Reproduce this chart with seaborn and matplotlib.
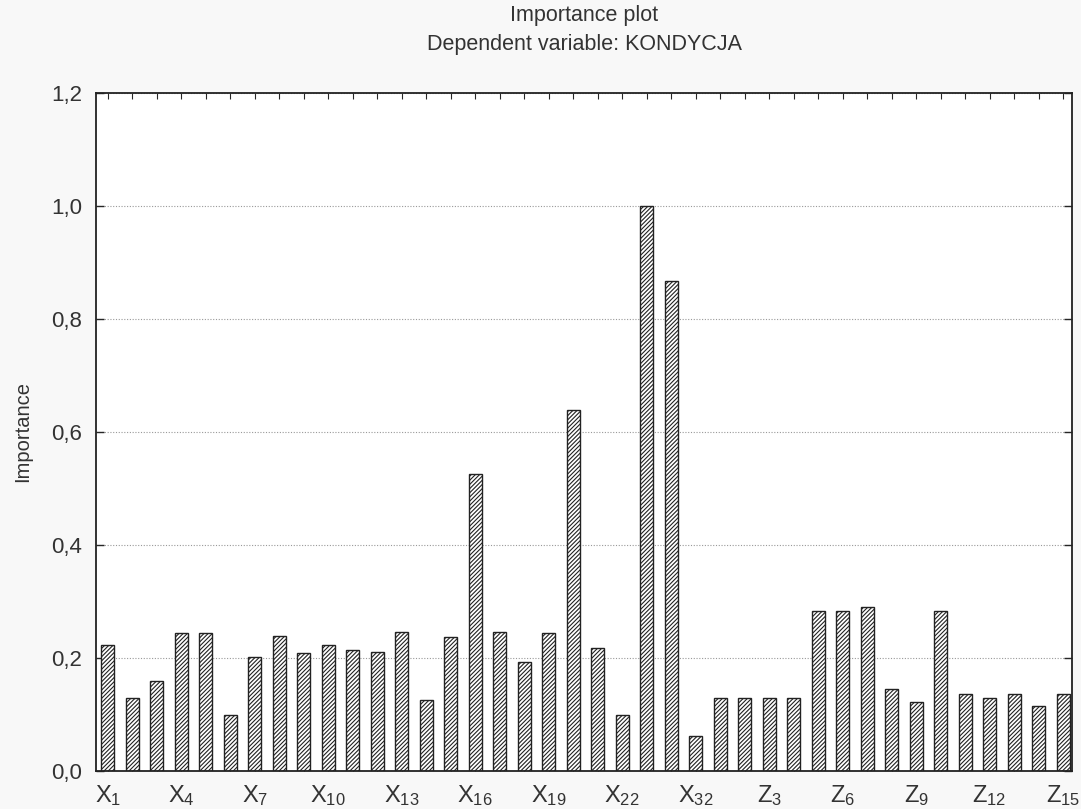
import matplotlib
matplotlib.use("Agg")
import matplotlib.pyplot as plt
import matplotlib.ticker as mticker
import pandas as pd
import seaborn as sns

# === data ===
variables = (["X%d" % i for i in range(1, 23)] + ["X30", "X31", "X32"]
             + ["Z%d" % i for i in range(1, 16)])
importance = [0.223, 0.128, 0.159, 0.244, 0.244, 0.098, 0.202, 0.238, 0.208, 0.223,
              0.213, 0.211, 0.246, 0.125, 0.236, 0.525, 0.246, 0.192, 0.244, 0.638,
              0.218, 0.098, 1.000, 0.867, 0.062, 0.128, 0.128, 0.128, 0.128, 0.282,
              0.282, 0.290, 0.144, 0.121, 0.282, 0.136, 0.128, 0.136, 0.114, 0.136]
y_ticks = [0.0, 0.2, 0.4, 0.6, 0.8, 1.0, 1.2]

df = pd.DataFrame({"Variable": variables, "Importance": importance})

# === style ===
sns.set_style("ticks")
plt.rcParams["font.family"] = ["Liberation Sans", "DejaVu Sans"]
plt.rcParams["mathtext.fontset"] = "custom"
plt.rcParams["mathtext.rm"] = "Liberation Sans"
plt.rcParams["mathtext.it"] = "Liberation Sans"
plt.rcParams["hatch.linewidth"] = 0.8
plt.rcParams["hatch.color"] = "#333333"

fig = plt.figure(figsize=(10.81, 8.09), dpi=100, facecolor="#f8f8f8")
ax = fig.add_axes([0.0888, 0.0474, 0.903, 0.8376])
ax.set_facecolor("white")

sns.barplot(data=df, x="Variable", y="Importance", order=variables,
            color="white", edgecolor="#222222", linewidth=1.0,
            hatch="////////", width=0.53, ax=ax)

# === axes ===
ax.set_xlim(-0.48, 39.37)
ax.set_ylim(0, 1.2)
ax.set_yticks(y_ticks)
ax.yaxis.set_major_formatter(mticker.FuncFormatter(lambda v, p: ("%.1f" % v).replace(".", ",")))
ax.yaxis.grid(True, linestyle=(0, (1, 1.5)), color="#999999", linewidth=0.8)
ax.set_axisbelow(True)

xt_labels = []
for i, name in enumerate(variables):
    if i % 3 == 0:
        xt_labels.append(r"$\mathrm{%s}_{%s}$" % (name[0], name[1:]))
    else:
        xt_labels.append("")
ax.set_xticks(range(len(variables)))
ax.set_xticklabels(xt_labels, fontsize=17, color="#333333")

ax.tick_params(axis="x", direction="in", length=4, top=True, width=0.8, pad=9)
ax.tick_params(axis="y", direction="in", length=6, right=True, width=1.0,
               labelsize=16, labelcolor="#333333", pad=10)
for s in ax.spines.values():
    s.set_linewidth(1.3)
    s.set_color("#222222")

ax.set_xlabel("")
ax.set_ylabel("Importance", fontsize=14.5, color="#333333", labelpad=14)
ax.set_title("Importance plot\nDependent variable: KONDYCJA", fontsize=15.5,
             color="#333333", pad=31, linespacing=1.5)

fig.savefig("out.png", dpi=100, facecolor=fig.get_facecolor())
